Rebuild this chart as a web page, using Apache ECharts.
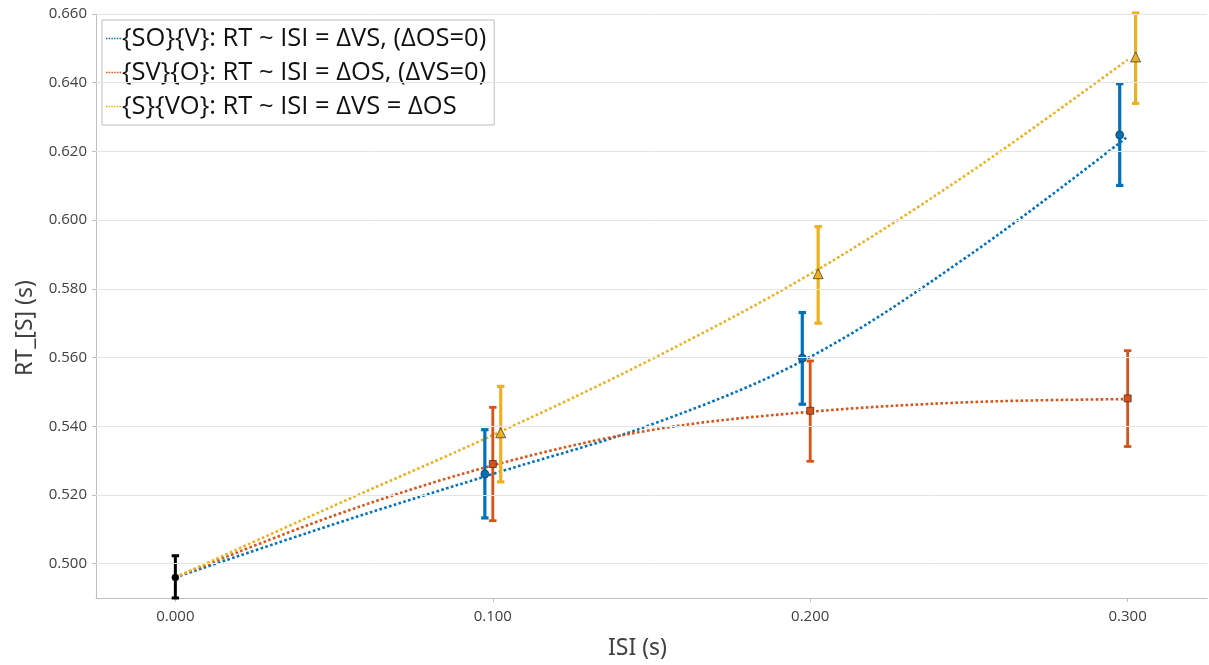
<!DOCTYPE html>
<html>
<head>
<meta charset="utf-8">
<script src="https://cdn.jsdelivr.net/npm/echarts@6/dist/echarts.min.js"></script>
<style>html,body{margin:0;padding:0;background:#fff}#chart{width:1209px;height:665px}</style>
</head>
<body>
<div id="chart"></div>
<script>
// ---- data ----
const seriesNames = [
  '{SO}{V}: RT ~ ISI = \u0394VS, (\u0394OS=0)',
  '{SV}{O}: RT ~ ISI = \u0394OS, (\u0394VS=0)',
  '{S}{VO}: RT ~ ISI = \u0394VS = \u0394OS'
];
const xTicks = [0, 0.1, 0.2, 0.3];
const yTicks = [0.50, 0.52, 0.54, 0.56, 0.58, 0.60, 0.62, 0.64, 0.66];

// fitted curves
const curveX   = [0, 0.05, 0.10, 0.15, 0.20, 0.25, 0.30];
const curveSOV = [0.4960, 0.5115, 0.5261, 0.5405, 0.5602, 0.5897, 0.6243];
const curveSVO = [0.4960, 0.5140, 0.5286, 0.5389, 0.5442, 0.5470, 0.5479];
const curveSVOb = [0.4960, 0.5169, 0.5374, 0.5595, 0.5843, 0.6137, 0.6467];

// measured points (ISI, mean, low, high)
const baseX    = [0];
const baseMean = [0.4960];
const baseLow  = [0.4900];
const baseHigh = [0.5023];

const groupX   = [0.1, 0.2, 0.3];
const sovMean  = [0.5261, 0.5598, 0.6248];
const sovLow   = [0.5133, 0.5464, 0.6101];
const sovHigh  = [0.5390, 0.5731, 0.6397];
const svoMean  = [0.5290, 0.5445, 0.5481];
const svoLow   = [0.5125, 0.5298, 0.5341];
const svoHigh  = [0.5455, 0.5590, 0.5620];
const sVOMean  = [0.5381, 0.5844, 0.6475];
const sVOLow   = [0.5238, 0.5700, 0.6340];
const sVOHigh  = [0.5516, 0.5981, 0.6603];

// ---- styling ----
const C_BLUE = '#0072BD', C_ORANGE = '#D95319', C_YELLOW = '#EDB120', C_BLACK = '#000000';
const OFFSET = 0.0025;
// dotted-line legend sample
const DOT_ICON = 'path://M0,0h1.6v1.6h-1.6z M2.9,0h1.6v1.6h-1.6z M5.8,0h1.6v1.6h-1.6z M8.7,0h1.6v1.6h-1.6z M11.6,0h1.6v1.6h-1.6z M14.5,0h1.6v1.6h-1.6z';

function pairs(xs, ys, dx) { return xs.map((x, i) => [x + (dx || 0), ys[i]]); }
function bars(xs, lo, hi, dx) { return xs.map((x, i) => [x + (dx || 0), lo[i], hi[i]]); }

function errorBarSeries(data, color, width) {
  return {
    type: 'custom', silent: true, z: 3, clip: false,
    data: data,
    encode: { x: 0, y: [1, 2] },
    renderItem: function (params, api) {
      const x = api.value(0);
      const top = api.coord([x, api.value(2)]);
      const bot = api.coord([x, api.value(1)]);
      const hw = 3.7;
      const st = { stroke: color, lineWidth: width };
      return {
        type: 'group',
        children: [
          { type: 'line', shape: { x1: top[0], y1: top[1], x2: bot[0], y2: bot[1] }, style: st },
          { type: 'line', shape: { x1: top[0] - hw, y1: top[1], x2: top[0] + hw, y2: top[1] }, style: st },
          { type: 'line', shape: { x1: bot[0] - hw, y1: bot[1], x2: bot[0] + hw, y2: bot[1] }, style: st }
        ]
      };
    }
  };
}

function curveSeries(name, ys, color) {
  return {
    name: name, type: 'line', data: pairs(curveX, ys), smooth: 0.35,
    symbol: 'none', z: 2, silent: true,
    lineStyle: { color: color, width: 2.6, type: [2.6, 2.4], cap: 'butt' },
    itemStyle: { color: color }
  };
}

function markerSeries(data, color, symbol, size) {
  return {
    type: 'scatter', data: data, symbol: symbol, symbolSize: size, z: 4, silent: true,
    itemStyle: { color: color, borderColor: 'rgba(40,40,40,0.85)', borderWidth: 0.8, opacity: 1 }
  };
}

// y grid lines through the y scale
const gridSeries = {
  type: 'line', data: [], silent: true, z: 0,
  markLine: {
    silent: true, symbol: ['none', 'none'], label: { show: false },
    lineStyle: { color: '#e4e4e4', width: 1, type: 'solid' },
    animation: false,
    data: yTicks.map(v => ({ yAxis: v }))
  }
};

const chart = echarts.init(document.getElementById('chart'), null, { renderer: 'canvas' });
chart.setOption({
  animation: false,
  backgroundColor: '#ffffff',
  grid: { left: 96, right: 2, top: 14, bottom: 65, containLabel: false },
  legend: {
    data: seriesNames.map((n, i) => ({ name: n, icon: DOT_ICON,
      itemStyle: { color: [C_BLUE, C_ORANGE, C_YELLOW][i], borderWidth: 0 } })),
    orient: 'vertical', left: 102, top: 20,
    backgroundColor: '#ffffff', borderColor: '#bdbdbd', borderWidth: 1,
    padding: [4, 8, 4, 4], itemGap: 5, itemWidth: 15, itemHeight: 2,
    textStyle: { fontFamily: 'Open Sans', fontSize: 25.5, color: '#111111', padding: [0, 0, 0, -4], lineHeight: 29 },
    selectedMode: false
  },
  xAxis: {
    type: 'value', min: -0.025, max: 0.325,
    name: 'ISI (s)', nameLocation: 'middle', nameGap: 39,
    nameTextStyle: { fontFamily: 'Noto Sans', fontSize: 23, color: '#404040', padding: [0, 28, 0, 0] },
    axisLine: { show: true, onZero: false, lineStyle: { color: '#bfbfbf', width: 1 } },
    axisTick: { show: true, customValues: xTicks, length: 4, lineStyle: { color: '#bfbfbf' } },
    axisLabel: { customValues: xTicks, margin: 11, fontFamily: 'Open Sans', fontSize: 15, color: '#404040',
      formatter: v => v.toFixed(3) },
    splitLine: { show: false }
  },
  yAxis: {
    type: 'value', min: 0.49, max: 0.66,
    name: 'RT_[S] (s)', nameLocation: 'middle', nameGap: 59,
    nameTextStyle: { fontFamily: 'Noto Sans', fontSize: 23, color: '#404040', padding: [0, 44, 0, 0] },
    axisLine: { show: true, onZero: false, lineStyle: { color: '#bfbfbf', width: 1 } },
    axisTick: { show: true, customValues: yTicks, length: 4, lineStyle: { color: '#bfbfbf' } },
    axisLabel: { customValues: yTicks, margin: 9, fontFamily: 'Open Sans', fontSize: 15, color: '#404040',
      formatter: v => v.toFixed(3) },
    splitLine: { show: false }
  },
  series: [
    gridSeries,
    curveSeries(seriesNames[0], curveSOV, C_BLUE),
    curveSeries(seriesNames[1], curveSVO, C_ORANGE),
    curveSeries(seriesNames[2], curveSVOb, C_YELLOW),
    errorBarSeries(bars(baseX, baseLow, baseHigh), C_BLACK, 3),
    errorBarSeries(bars(groupX, sovLow, sovHigh, -OFFSET), C_BLUE, 3.2),
    errorBarSeries(bars(groupX, svoLow, svoHigh, 0), C_ORANGE, 2.8),
    errorBarSeries(bars(groupX, sVOLow, sVOHigh, OFFSET), C_YELLOW, 3.2),
    markerSeries(pairs(baseX, baseMean), C_BLACK, 'circle', 7),
    markerSeries(pairs(groupX, sovMean, -OFFSET), C_BLUE, 'circle', 8),
    markerSeries(pairs(groupX, svoMean, 0), C_ORANGE, 'rect', 7),
    markerSeries(pairs(groupX, sVOMean, OFFSET), C_YELLOW, 'triangle', 10)
  ]
});
</script>
</body>
</html>
